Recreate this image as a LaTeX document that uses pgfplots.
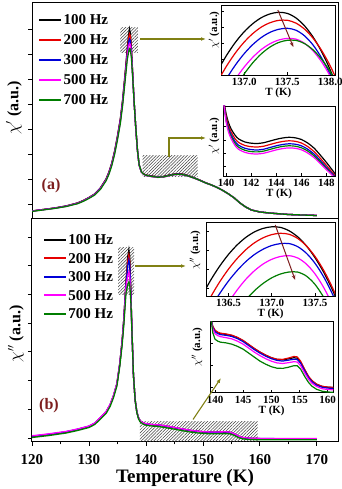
\documentclass[border=0pt]{standalone}
\usepackage{pgfplots}
\pgfplotsset{compat=1.18}
\usepackage{pgfplotstable}
\usepackage{fontspec}
\setmainfont{Liberation Serif}
\usetikzlibrary{patterns.meta,arrows.meta}
\definecolor{cR}{RGB}{230,0,0}
\definecolor{cB}{RGB}{0,0,215}
\definecolor{cM}{RGB}{255,0,255}
\definecolor{cG}{RGB}{0,125,0}
\definecolor{olivearrow}{RGB}{128,128,20}
\definecolor{maroonlab}{RGB}{125,30,30}
\tikzset{hatch/.style={pattern={Lines[angle=45,distance=2.2pt,line width=0.5pt]}, pattern color=black!75}}

\pgfplotstableread{
T k r b m g
120 8 8 8 7.8 7.6
122 9.5 9.5 9.4 9.3 9.1
124 11 11 10.9 10.8 10.6
126 13 13 12.9 12.7 12.5
128 16 16 15.8 15.6 15.3
129 18.5 18.4 18.2 18 17.7
130 21.5 21.4 21.2 21 20.6
131 25 24.9 24.7 24.4 24
132 31 30.8 30.5 30.2 29.6
133 40 39.7 39.3 38.9 38.2
133.5 47 46.6 46.1 45.6 44.8
134 56 55.5 55 54.4 53.4
134.5 68 67.4 66.7 66 64.8
135 83 82.3 81.5 80.6 79.2
135.5 100 99.2 98.2 97.1 95.5
135.9 119 118 117 115.5 113.5
136.3 143 141.5 140 138.5 136
136.7 169 167 164.5 162 158.5
136.95 184 180.5 176.5 172.5 167
137.1 190 185 180 175.5 170.5
137.25 186 183 178.5 174.5 170
137.45 170 168.5 166 163.5 161
137.7 142 141.5 141 140 139
137.9 119 119 119 119 119
138.2 92 92 92 92 92.5
138.5 69 69 69 69 69.5
138.8 54 54 54 54 54.5
139.2 47 47 47 46.8 47
139.6 45 45 44.8 44.6 44.8
140 44 43.8 43.6 43.4 43.6
141 43 42.8 42.6 42.3 42.5
142 42.3 42.1 41.9 41.6 41.8
143 42.5 42.3 42.1 41.8 42
144 43.8 43.6 43.4 43.1 43.3
145 45 44.8 44.6 44.3 44.5
145.7 45.3 45.1 44.9 44.6 44.8
146.5 44.8 44.6 44.4 44.1 44.3
147.5 43.3 43.1 42.9 42.7 42.8
148.5 41.2 41 40.9 40.7 40.8
149.5 38.8 38.7 38.6 38.5 38.5
150.5 36.2 36.1 36 36 36
151.5 34 34 34 34 34
152.5 31.5 31.5 31.5 31.5 31.5
153.5 28.5 28.5 28.5 28.5 28.5
154.5 25 25 25 25 25
155.5 21 21 21 21 21
156.5 16 16 16 16 16
157.5 12 12 12 12 12
158.5 9 9 9 9 9
160 7 7 7 7 7
162 5.8 5.8 5.8 5.8 5.8
165 4.5 4.5 4.5 4.5 4.5
170 3.5 3.5 3.5 3.6 3.5
}\topdata

\pgfplotstableread{
T k r b m g
120 5.5 5.5 5.8 6.2 4.5
123 7.5 7.5 7.8 8.2 6.5
126 10 10 10.3 10.6 9
128 12.5 12.5 12.8 13 11.5
130 15.5 15.5 15.8 16 14.5
131 18.5 18.5 18.8 19 17.5
132 24 24 24.2 24.5 22.8
133 30 30 30.2 30.5 28.5
133.7 37 37 37.2 37.5 35.5
134.3 46 46 46.2 46.5 44.3
134.9 58 58 58.2 58.5 56
135.4 78 78 78 78 75.5
135.8 100 100 99.5 99 96
136.1 122 121.5 121 120 116
136.5 160 159 157.5 155 149
136.8 185 181 176 166 157
137 192 187 182 170 160
137.15 185 181 177 166 158
137.35 150 148 147 143 140
137.55 110 109.5 109 108.5 108
137.8 67 67 67 67 67.5
138.1 42 42 42 42 42
138.4 30 30 30 30 29.5
138.7 24 24 24 24 23
139 21 21 21 21 20
139.5 19 19 19 19.2 18
140 18 18 18 18.3 16.8
141 17.3 17.3 17.4 17.6 16
142 17 17 17.1 17.3 15.6
143 16.3 16.3 16.4 16.6 14.8
144 15.3 15.3 15.4 15.6 13.8
145 14.3 14.3 14.4 14.6 12.8
146 13.2 13.3 13.3 13.5 11.7
147 12.2 12.3 12.3 12.5 10.7
148 11.3 11.4 11.4 11.6 9.8
149 10.6 10.7 10.7 10.9 9.1
150 10.1 10.2 10.2 10.4 8.6
151 9.8 9.9 9.9 10.1 8.3
152 9.7 9.8 9.8 10 8.2
153 9.8 9.9 9.9 10.1 8.3
154 9.9 10 10 10.2 8.4
154.7 9.6 9.7 9.7 9.9 8.2
155.5 8 8.1 8.1 8.3 6.6
156.3 5.5 5.6 5.6 5.8 4.2
157 4.3 4.4 4.4 4.6 3.1
158 3.6 3.6 3.7 3.9 2.5
160 3.3 3.3 3.4 3.6 2.3
165 3.2 3.2 3.3 3.5 2.2
170 3.1 3.1 3.2 3.4 2.2
}\botdata

\pgfplotstableread{
T k r b m g
136.7 5.7 -5 -17.9 -33.6 -45.9
136.8 20.4 9.7 -2.8 -17.7 -28
136.9 33.0 22.4 10.3 -3.8 -12.3
137.0 43.3 33 21.4 8 1.1
137.1 51.4 41.5 30.5 17.8 12.3
137.2 57.4 48 37.6 25.6 21.3
137.3 61.1 52.3 42.7 31.3 28
137.4 62.7 54.6 45.7 35 32.5
137.5 61.6 54.7 46.7 36.6 34.7
137.6 57.1 51.9 44.8 35.9 34.6
137.7 49.2 45.9 39.2 31.7 31.4
137.8 37.9 36.7 29.9 24.1 25.1
137.9 23.1 24.4 16.8 13 15.6
138.0 4.8 8.9 0 -1.5 3
138.1 -16.8 -9.7 -20.6 -19.5 -12.8
}\aonedata

\pgfplotstableread{
T k r b g m
139.8 76 75 74.5 74 73.5
140.0 62 59.5 57 55.5 54
140.2 53 50 47.5 45.5 43.5
140.4 47 44 41.3 39.3 37.2
140.7 41 37.5 34.7 32.7 30.6
141.0 37 33.5 30.7 28.7 26.6
141.5 34 30.5 27.7 25.7 23.6
142.0 32.8 29.3 26.4 24.4 22.3
142.5 32.5 29 26 24.1 22
143.0 33.3 29.8 26.8 24.9 22.8
143.5 35 31.5 28.5 26.6 24.4
144.0 36.7 33.2 30.2 28.3 26.1
144.5 38 34.5 31.5 29.6 27.4
145.0 38.7 35.2 32.2 30.2 28.1
145.5 38.2 34.7 31.8 29.8 27.7
146.0 36.5 33 30.2 28.2 26.2
146.5 33 29.5 26.8 25 23
147.0 28 24.5 22 20.3 18.5
147.5 21 17.8 15.5 14 12.5
148.0 13.5 10.5 8.5 7.3 6.3
148.4 7 4.5 3 2 1.5
148.7 2 0 -1 -2 -2.5
}\atwodata

\pgfplotstableread{
T k r b m g
136.2 1.3 -16.2 -27.1 -56.1 -76.7
136.3 16.7 0 -11.3 -37.6 -58.6
136.4 30.1 14.4 2.7 -21.1 -42.2
136.5 41.6 26.9 15 -6.5 -27.6
136.6 51.1 37.5 25.5 6 -14.9
136.7 58.6 46.3 34.4 16.7 -3.9
136.8 64.1 53.2 41.5 25.3 5.3
136.9 67.6 58.2 46.8 32 12.6
137.0 69.2 61.4 50.5 36.7 18.2
137.1 68.6 62.7 52.4 39.5 22
137.2 65.2 61.7 52.4 40.3 24
137.3 59.1 57.5 49.3 38 23.9
137.4 50.1 50.1 42.7 31.9 19.9
137.5 38.2 39.5 32.6 22 11.5
137.6 23.6 25.6 19 8.4 -1.5
137.7 6.2 8.5 2 -9.1 -18.9
137.8 -14.1 -11.7 -18.6 -30.4 -40
}\bonedata

\pgfplotstableread{
T k r b m g
139.2 80 80 80 80 80
139.35 72 72 72 71 72
139.6 66 66.5 65 64 60
140 62 62.5 61 59 53.5
140.5 60 60.5 59 57 51.5
141 59 59.5 58 56 50.5
142 58.3 58.7 57.3 55 49.8
143 57.2 57.5 56.2 53.8 48.5
144 55 55.3 54 51.5 46.3
145 52 52.2 51 48.5 43.5
146 48 48.2 47 44.5 39.5
147 44 44.2 43 40.5 35.5
148 40.5 40.6 39.5 37 31.5
149 37.5 37.6 36.5 34 28.5
150 35 35 34 31.5 26
151 33.3 33.5 32.3 29.8 24.5
152 32.8 33.3 31.6 29.2 24.3
153 33.8 34.6 32.5 30 25.4
154 35 36.2 33.5 31 27
154.6 34.5 35.8 33.2 30.7 27
155.2 30.5 31.5 29.5 27 23.5
156 22 22.5 21 19 15.5
156.6 16 16.3 15 13.5 10.3
157.2 12 12.2 11 9.5 6.5
158 8.5 8.6 7.6 6.3 3.5
159 6.3 6.4 5.4 4 1.5
160 5.5 5.6 4.6 3.2 0.7
161 5.2 5.3 4.3 2.9 0.4
}\btwodata

\pgfplotsset{
  mainax/.style={scale only axis, anchor=south west, width=306pt,
    xmin=120, xmax=173.7, ymin=0,
    tick align=outside, tick pos=left,
    major tick length=4pt, minor tick length=2.5pt,
    axis line style={line width=1pt},
    every tick/.append style={line width=0.9pt, black},
    tick label style={font=\fontsize{15}{18}\selectfont\bfseries},
    /pgf/number format/assume math mode=true,
    yticklabels={},
    legend image code/.code={\draw[##1,line width=1.8pt](0pt,0pt)--(22pt,0pt);},
    legend cell align=left,
    every axis plot/.append style={line width=1.3pt},
  },
  insetax/.style={scale only axis, anchor=south west, ymin=0,
    tick align=inside, tick pos=left,
    major tick length=3pt,
    axis background/.style={fill=white},
    axis line style={line width=0.8pt},
    every tick/.append style={line width=0.7pt, black},
    tick label style={font=\fontsize{11}{13}\selectfont\bfseries},
    /pgf/number format/assume math mode=true,
    yticklabels={},
    xlabel={T (K)},
    xlabel style={font=\fontsize{11}{13}\selectfont\bfseries, yshift=5pt},
    every axis plot/.append style={line width=1.2pt, smooth},
  },
}

\begin{document}
\begin{tikzpicture}
\path[use as bounding box] (0pt,0pt) rectangle (342pt,489pt);

% ---------- top main panel ----------
\begin{axis}[mainax, at={(32pt,270pt)}, height=216pt, ymax=216,
  xtick=\empty, ytick={15,40,65,90,115,140,165,190},
  legend style={at={(0.01,0.963)}, anchor=north west, draw=none, fill=none,
    font=\fontsize{15}{18}\selectfont\bfseries, row sep=7pt,
    nodes={inner sep=1.5pt, text height=10pt, text depth=0pt}}]
\fill[hatch] (axis cs:135.45,166) rectangle (axis cs:138.6,191);
\fill[hatch] (axis cs:139.42,42.3) rectangle (axis cs:149.07,63);
\addplot[black] table[x=T,y=k]{\topdata};
\addplot[cR] table[x=T,y=r]{\topdata};
\addplot[cB] table[x=T,y=b]{\topdata};
\addplot[cM] table[x=T,y=m]{\topdata};
\addplot[cG] table[x=T,y=g]{\topdata};
\legend{100 Hz,200 Hz,300 Hz,500 Hz,700 Hz}
\end{axis}

% ---------- bottom main panel ----------
\begin{axis}[mainax, at={(32pt,47pt)}, height=223pt, ymax=223,
  xtick={120,130,...,170}, minor x tick num=1,
  ytick={4,32.7,61.4,90.1,118.8,147.5,176.2,204.9},
  xticklabel style={yshift=-5pt},
  legend style={at={(0.026,0.946)}, anchor=north west, draw=none, fill=none,
    font=\fontsize{15}{18}\selectfont\bfseries, row sep=5.5pt,
    nodes={inner sep=1.5pt, text height=10pt, text depth=0pt}}]
\fill[hatch] (axis cs:135.1,147) rectangle (axis cs:137.9,194);
\fill[hatch] (axis cs:138.95,0) rectangle (axis cs:159.6,20.3);
\addplot[black] table[x=T,y=k]{\botdata};
\addplot[cR] table[x=T,y=r]{\botdata};
\addplot[cB] table[x=T,y=b]{\botdata};
\addplot[cM] table[x=T,y=m]{\botdata};
\addplot[cG] table[x=T,y=g]{\botdata};
\legend{100 Hz,200 Hz,300 Hz,500 Hz,700 Hz}
\end{axis}

% ---------- inset a1 ----------
\begin{axis}[insetax, at={(221pt,414pt)}, width=114.5pt, height=70pt,
  xmin=136.73, xmax=138.06, ymax=70,
  xtick={137,137.5,138}, xticklabels={137.0,137.5,138.0},
  ytick={15.7,31.7,47.3,63.3}]
\addplot[black] table[x=T,y=k]{\aonedata};
\addplot[cR] table[x=T,y=r]{\aonedata};
\addplot[cB] table[x=T,y=b]{\aonedata};
\addplot[cM] table[x=T,y=m]{\aonedata};
\addplot[cG] table[x=T,y=g]{\aonedata};
\draw[maroonlab, line width=1pt, -{Stealth[length=5pt]}] (axis cs:137.39,65) -- (axis cs:137.57,28);
\end{axis}

% ---------- inset a2 ----------
\begin{axis}[insetax, at={(223pt,313pt)}, width=112pt, height=70pt,
  xmin=139.75, xmax=148.68, ymax=70,
  xtick={140,142,144,146,148},
  ytick={9.3,22.7,36,50,63.3}]
\addplot[black] table[x=T,y=k]{\atwodata};
\addplot[cR] table[x=T,y=r]{\atwodata};
\addplot[cB] table[x=T,y=b]{\atwodata};
\addplot[cG] table[x=T,y=g]{\atwodata};
\addplot[cM] table[x=T,y=m]{\atwodata};
\end{axis}

% ---------- inset b1 ----------
\begin{axis}[insetax, at={(206pt,193pt)}, width=129pt, height=74pt,
  xmin=136.24, xmax=137.73, ymax=74,
  xtick={136.5,137,137.5}, xticklabels={136.5,137.0,137.5},
  ytick={8,27,46,65}]
\addplot[black] table[x=T,y=k]{\bonedata};
\addplot[cR] table[x=T,y=r]{\bonedata};
\addplot[cB] table[x=T,y=b]{\bonedata};
\addplot[cM] table[x=T,y=m]{\bonedata};
\addplot[cG] table[x=T,y=g]{\bonedata};
\draw[maroonlab, line width=1pt, -{Stealth[length=5pt]}] (axis cs:137.04,71) -- (axis cs:137.27,16);
\end{axis}

% ---------- inset b2 ----------
\begin{axis}[insetax, at={(210pt,96.3pt)}, width=123.3pt, height=71pt,
  xmin=139.11, xmax=161, ymax=71,
  xtick={140,145,150,155,160},
  ytick={5,27,49,71},
  every axis plot/.append style={line width=1.2pt, sharp plot}]
\addplot[black] table[x=T,y=k]{\btwodata};
\addplot[cR] table[x=T,y=r]{\btwodata};
\addplot[cB] table[x=T,y=b]{\btwodata};
\addplot[cM] table[x=T,y=m]{\btwodata};
\addplot[cG] table[x=T,y=g]{\btwodata};
\end{axis}

% ---------- labels and pointers ----------
\node[rotate=90, font=\fontsize{16}{19}\selectfont\bfseries] at (14pt,381pt) {$\chi^{\prime}$ (a.u.)};
\node[rotate=90, font=\fontsize{16}{19}\selectfont\bfseries] at (16pt,155pt) {$\chi^{\prime\prime}$ (a.u.)};
\node[rotate=90, font=\fontsize{11}{13}\selectfont\bfseries] at (214pt,459pt) {$\chi^{\prime}$ (a.u.)};
\node[rotate=90, font=\fontsize{11}{13}\selectfont\bfseries] at (214pt,353pt) {$\chi^{\prime}$ (a.u.)};
\node[rotate=90, font=\fontsize{11}{13}\selectfont\bfseries] at (195pt,239pt) {$\chi^{\prime\prime}$ (a.u.)};
\node[rotate=90, font=\fontsize{11}{13}\selectfont\bfseries] at (197pt,142pt) {$\chi^{\prime\prime}$ (a.u.)};
\node[font=\fontsize{19}{22}\selectfont\bfseries] at (185pt,11pt) {Temperature (K)};
\node[font=\fontsize{16}{19}\selectfont\bfseries, text=maroonlab] at (51pt,303pt) {(a)};
\node[font=\fontsize{16}{19}\selectfont\bfseries, text=maroonlab] at (49pt,83pt) {(b)};

\draw[olivearrow, line width=1.1pt, -{Latex[length=5pt]}] (140pt,450pt) -- (206pt,450pt);
\draw[olivearrow, line width=1.1pt, -{Latex[length=5pt]}] (169pt,332pt) -- (169pt,351pt) -- (206pt,351pt);
\draw[olivearrow, line width=1.1pt, -{Latex[length=5pt]}] (135pt,223pt) -- (186pt,223pt);
\draw[olivearrow, line width=1.1pt, -{Latex[length=5pt]}] (193pt,69.5pt) -- (221pt,111pt);
\end{tikzpicture}
\end{document}
